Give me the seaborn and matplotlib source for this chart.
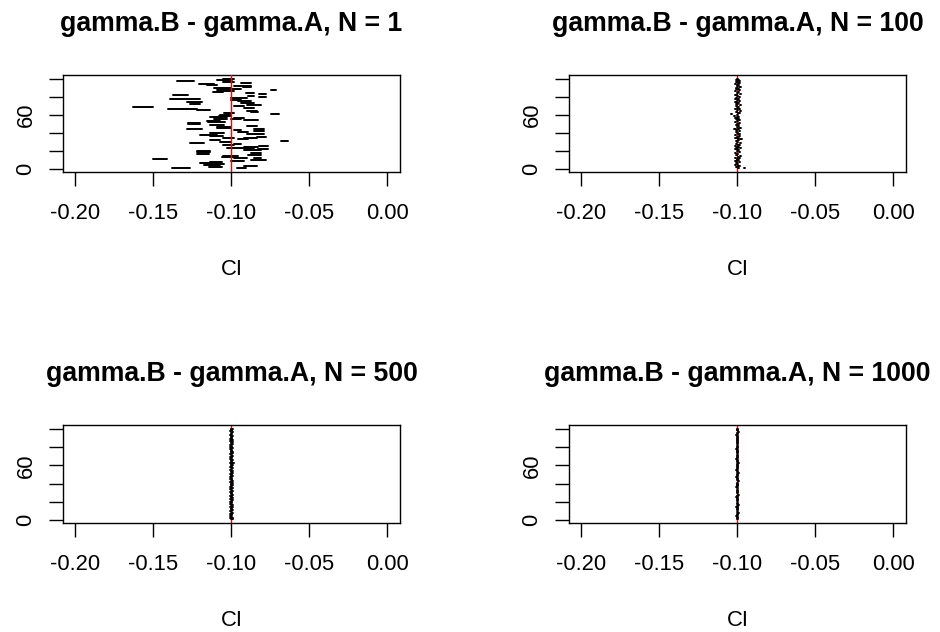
"""Coverage of 100 confidence intervals for gamma.B - gamma.A at four sample sizes."""

import matplotlib

matplotlib.use("Agg")

import matplotlib.pyplot as plt
import pandas as pd
import seaborn as sns

TRUE_DIFF = -0.1
SAMPLE_SIZES = [1, 100, 500, 1000]

# N = 1: interval ends, index 1..100 from the bottom
N1_LOWER = [
    -0.0963, -0.1384, -0.1147, -0.0920, -0.1179, -0.1114, -0.1200, -0.1136, -0.1006, -0.0877,
    -0.1502, -0.0856, -0.0985, -0.1060, -0.1052, -0.0897, -0.1222, -0.0877, -0.1220, -0.1222,
    -0.0920, -0.0832, -0.0942, -0.1028, -0.0922, -0.0823, -0.1052, -0.0985, -0.1265, -0.1071,
    -0.0683, -0.1136, -0.0961, -0.0920, -0.1052, -0.0834, -0.1136, -0.1201, -0.0899, -0.1136,
    -0.0961, -0.0856, -0.0985, -0.0858, -0.1287, -0.1093, -0.1091, -0.0899, -0.1136, -0.1278,
    -0.1276, -0.1149, -0.1157, -0.0922, -0.1006, -0.1114, -0.0987, -0.1136, -0.1082, -0.1071,
    -0.0748, -0.1050, -0.0877, -0.0899, -0.1222, -0.1319, -0.1405, -0.0922, -0.1632, -0.0985,
    -0.0899, -0.1265, -0.0942, -0.1287, -0.0961, -0.1006, -0.1395, -0.1287, -0.1006, -0.0825,
    -0.0897, -0.1373, -0.0823, -0.0909, -0.1116, -0.1093, -0.0748, -0.1006, -0.1090, -0.1114,
    -0.0925, -0.0985, -0.1157, -0.1205, -0.0942, -0.1054, -0.1351, -0.1091, -0.1052, -0.1054,
]
N1_UPPER = [
    -0.0909, -0.1265, -0.1060, -0.0834, -0.1071, -0.1050, -0.1116, -0.1060, -0.0920, -0.0780,
    -0.1416, -0.0812, -0.0899, -0.0985, -0.0961, -0.0812, -0.1147, -0.0812, -0.1136, -0.1136,
    -0.0812, -0.0767, -0.0856, -0.0942, -0.0832, -0.0769, -0.0987, -0.0942, -0.1179, -0.1006,
    -0.0640, -0.1071, -0.0897, -0.0834, -0.0987, -0.0780, -0.1052, -0.1093, -0.0791, -0.1050,
    -0.0897, -0.0791, -0.0942, -0.0793, -0.1190, -0.1006, -0.1006, -0.0834, -0.1050, -0.1201,
    -0.1201, -0.1039, -0.1071, -0.0832, -0.0942, -0.1028, -0.0922, -0.1026, -0.1006, -0.1006,
    -0.0694, -0.0985, -0.0832, -0.0834, -0.1136, -0.1222, -0.1254, -0.0858, -0.1502, -0.0920,
    -0.0812, -0.1201, -0.0856, -0.1190, -0.0877, -0.0942, -0.1287, -0.1201, -0.0899, -0.0780,
    -0.0858, -0.1276, -0.0780, -0.0856, -0.1052, -0.0985, -0.0715, -0.0942, -0.0961, -0.1006,
    -0.0873, -0.0877, -0.1093, -0.1114, -0.0877, -0.0985, -0.1239, -0.1006, -0.0994, -0.0985,
]

# larger N: interval midpoints plus a (tiny) half width per panel
N100_MID = [
    -0.0995, -0.0955, -0.1008, -0.0990, -0.1012, -0.0998, -0.1004, -0.0985, -0.1010, -0.0996,
    -0.1002, -0.0988, -0.1015, -0.0993, -0.0980, -0.1006, -0.0999, -0.1011, -0.0987, -0.1001,
    -0.0992, -0.1009, -0.0983, -0.1003, -0.0997, -0.1014, -0.0990, -0.1005, -0.0982, -0.1000,
    -0.1007, -0.0994, -0.0978, -0.1010, -0.0996, -0.1002, -0.0986, -0.1013, -0.0991, -0.0999,
    -0.1004, -0.0989, -0.1008, -0.0995, -0.1016, -0.0984, -0.1001, -0.0993, -0.1006, -0.0997,
    -0.0988, -0.1011, -0.0999, -0.0985, -0.1003, -0.0992, -0.1009, -0.0996, -0.1018, -0.1002,
    -0.1036, -0.0990, -0.1005, -0.0981, -0.0998, -0.1012, -0.0987, -0.1001, -0.0994, -0.1007,
    -0.0983, -0.1003, -0.0996, -0.1010, -0.0989, -0.1000, -0.1014, -0.0992, -0.1004, -0.0986,
    -0.0998, -0.1009, -0.0979, -0.1002, -0.0995, -0.1011, -0.0988, -0.1005, -0.0993, -0.1008,
    -0.0984, -0.1001, -0.0997, -0.1013, -0.0990, -0.1003, -0.0986, -0.1006, -0.0994, -0.1000,
]
N500_MID = [
    -0.0997, -0.1004, -0.0994, -0.1001, -0.1006, -0.0998, -0.1003, -0.0993, -0.1000, -0.1005,
    -0.0996, -0.1002, -0.0999, -0.1007, -0.0995, -0.1001, -0.0992, -0.1004, -0.0998, -0.1003,
    -0.1000, -0.0994, -0.1006, -0.0997, -0.1002, -0.0999, -0.1005, -0.0995, -0.1001, -0.0998,
    -0.1003, -0.0993, -0.1000, -0.1004, -0.0996, -0.1008, -0.0999, -0.1002, -0.0995, -0.1001,
    -0.0997, -0.1005, -0.0994, -0.1000, -0.1003, -0.0998, -0.1006, -0.0996, -0.1002, -0.0999,
    -0.1004, -0.0993, -0.1001, -0.0997, -0.1005, -0.0999, -0.0995, -0.1003, -0.1000, -0.0997,
    -0.1002, -0.0990, -0.1004, -0.0998, -0.1001, -0.0996, -0.1006, -0.0999, -0.1003, -0.0994,
    -0.1000, -0.1005, -0.0997, -0.1002, -0.0995, -0.1001, -0.0998, -0.1007, -0.0996, -0.1003,
    -0.0999, -0.1004, -0.0994, -0.1001, -0.0997, -0.1005, -0.1000, -0.0995, -0.1003, -0.0998,
    -0.1002, -0.0996, -0.1006, -0.0999, -0.1001, -0.0993, -0.1004, -0.0998, -0.1000, -0.0997,
]
N1000_MID = [
    -0.0999, -0.1003, -0.0997, -0.1001, -0.1004, -0.0998, -0.1002, -0.0996, -0.1000, -0.1003,
    -0.0998, -0.1001, -0.0997, -0.1004, -0.0999, -0.1002, -0.0996, -0.1001, -0.0998, -0.1003,
    -0.1000, -0.0997, -0.1002, -0.0999, -0.1004, -0.0998, -0.1001, -0.0996, -0.1003, -0.0999,
    -0.1002, -0.0997, -0.1000, -0.1003, -0.0998, -0.1005, -0.0999, -0.1001, -0.0997, -0.1002,
    -0.0998, -0.1003, -0.0996, -0.1000, -0.1002, -0.0999, -0.1004, -0.0997, -0.1001, -0.0998,
    -0.1003, -0.0996, -0.1001, -0.0999, -0.1004, -0.0998, -0.0997, -0.1002, -0.1000, -0.0998,
    -0.1001, -0.0995, -0.1003, -0.0999, -0.1001, -0.0997, -0.1004, -0.0999, -0.1002, -0.0997,
    -0.1000, -0.1003, -0.0998, -0.1001, -0.0997, -0.1002, -0.0999, -0.1004, -0.0998, -0.1002,
    -0.0999, -0.1003, -0.0997, -0.1001, -0.0998, -0.1003, -0.1000, -0.0997, -0.1002, -0.0999,
    -0.1001, -0.0998, -0.1004, -0.0999, -0.1001, -0.0996, -0.1003, -0.0999, -0.1000, -0.0998,
]
HALF_WIDTHS = [0.0004, 0.0004, 0.0003]

X_TICKS = [-0.20, -0.15, -0.10, -0.05, 0.00]
X_TICK_LABELS = ["-0.20", "-0.15", "-0.10", "-0.05", "0.00"]
Y_TICKS = [0, 20, 40, 60, 80, 100]
Y_TICK_LABELS = ["0", "", "", "60", "", ""]


def interval_frame(lower: list[float], upper: list[float]) -> pd.DataFrame:
    """Long-form frame with two rows (both ends) per interval."""
    rows = []
    for i, (lo, hi) in enumerate(zip(lower, upper), start=1):
        rows.append({"seg": i, "ci": lo, "rep": i})
        rows.append({"seg": i, "ci": hi, "rep": i})
    return pd.DataFrame(rows)


def draw_panel(ax: plt.Axes, frame: pd.DataFrame, n: int, red_on_top: bool) -> None:
    sns.lineplot(
        data=frame, x="ci", y="rep", units="seg", estimator=None, sort=False,
        color="black", lw=1.4, ax=ax, legend=False, zorder=2,
    )
    ax.axvline(TRUE_DIFF, color="red", lw=1.0, zorder=3 if red_on_top else 1.5)
    ax.set_xlim(-0.208, 0.008)
    ax.set_ylim(-2.96, 103.96)
    ax.set_xticks(X_TICKS)
    ax.set_xticklabels(X_TICK_LABELS)
    ax.set_yticks(Y_TICKS)
    ax.set_yticklabels(Y_TICK_LABELS, rotation=90, va="center")
    ax.tick_params(
        axis="both", bottom=True, left=True, direction="out", length=10, width=1.0,
        labelsize=15.8, color="black", labelcolor="black",
    )
    ax.tick_params(axis="x", pad=12.5)
    ax.tick_params(axis="y", pad=9)
    ax.set_xlabel("CI", fontsize=15.8, labelpad=25, color="black")
    ax.set_ylabel("")
    ax.set_title(
        f"gamma.B - gamma.A, N = {n}", fontsize=19.2, fontweight="bold", pad=31.5, color="black"
    )
    for spine in ax.spines.values():
        spine.set_visible(True)
        spine.set_color("black")
        spine.set_linewidth(1.0)


def main() -> None:
    sns.set_style("white")
    plt.rcParams["font.family"] = ["Liberation Sans", "DejaVu Sans"]
    plt.rcParams["text.color"] = "black"

    frames = [interval_frame(N1_LOWER, N1_UPPER)]
    for mids, half in zip([N100_MID, N500_MID, N1000_MID], HALF_WIDTHS):
        frames.append(interval_frame([m - half for m in mids], [m + half for m in mids]))

    fig, axes = plt.subplots(2, 2, figsize=(9.4, 6.32), dpi=100)
    positions = [
        [0.0670, 0.7278, 0.3585, 0.1535],
        [0.6053, 0.7278, 0.3585, 0.1535],
        [0.0670, 0.1725, 0.3585, 0.1550],
        [0.6053, 0.1725, 0.3585, 0.1550],
    ]
    for k, (ax, pos, frame, n) in enumerate(zip(axes.flat, positions, frames, SAMPLE_SIZES)):
        ax.set_position(pos)
        draw_panel(ax, frame, n, red_on_top=(k == 0))

    fig.savefig("out.png", dpi=100)
    plt.close(fig)


if __name__ == "__main__":
    main()
